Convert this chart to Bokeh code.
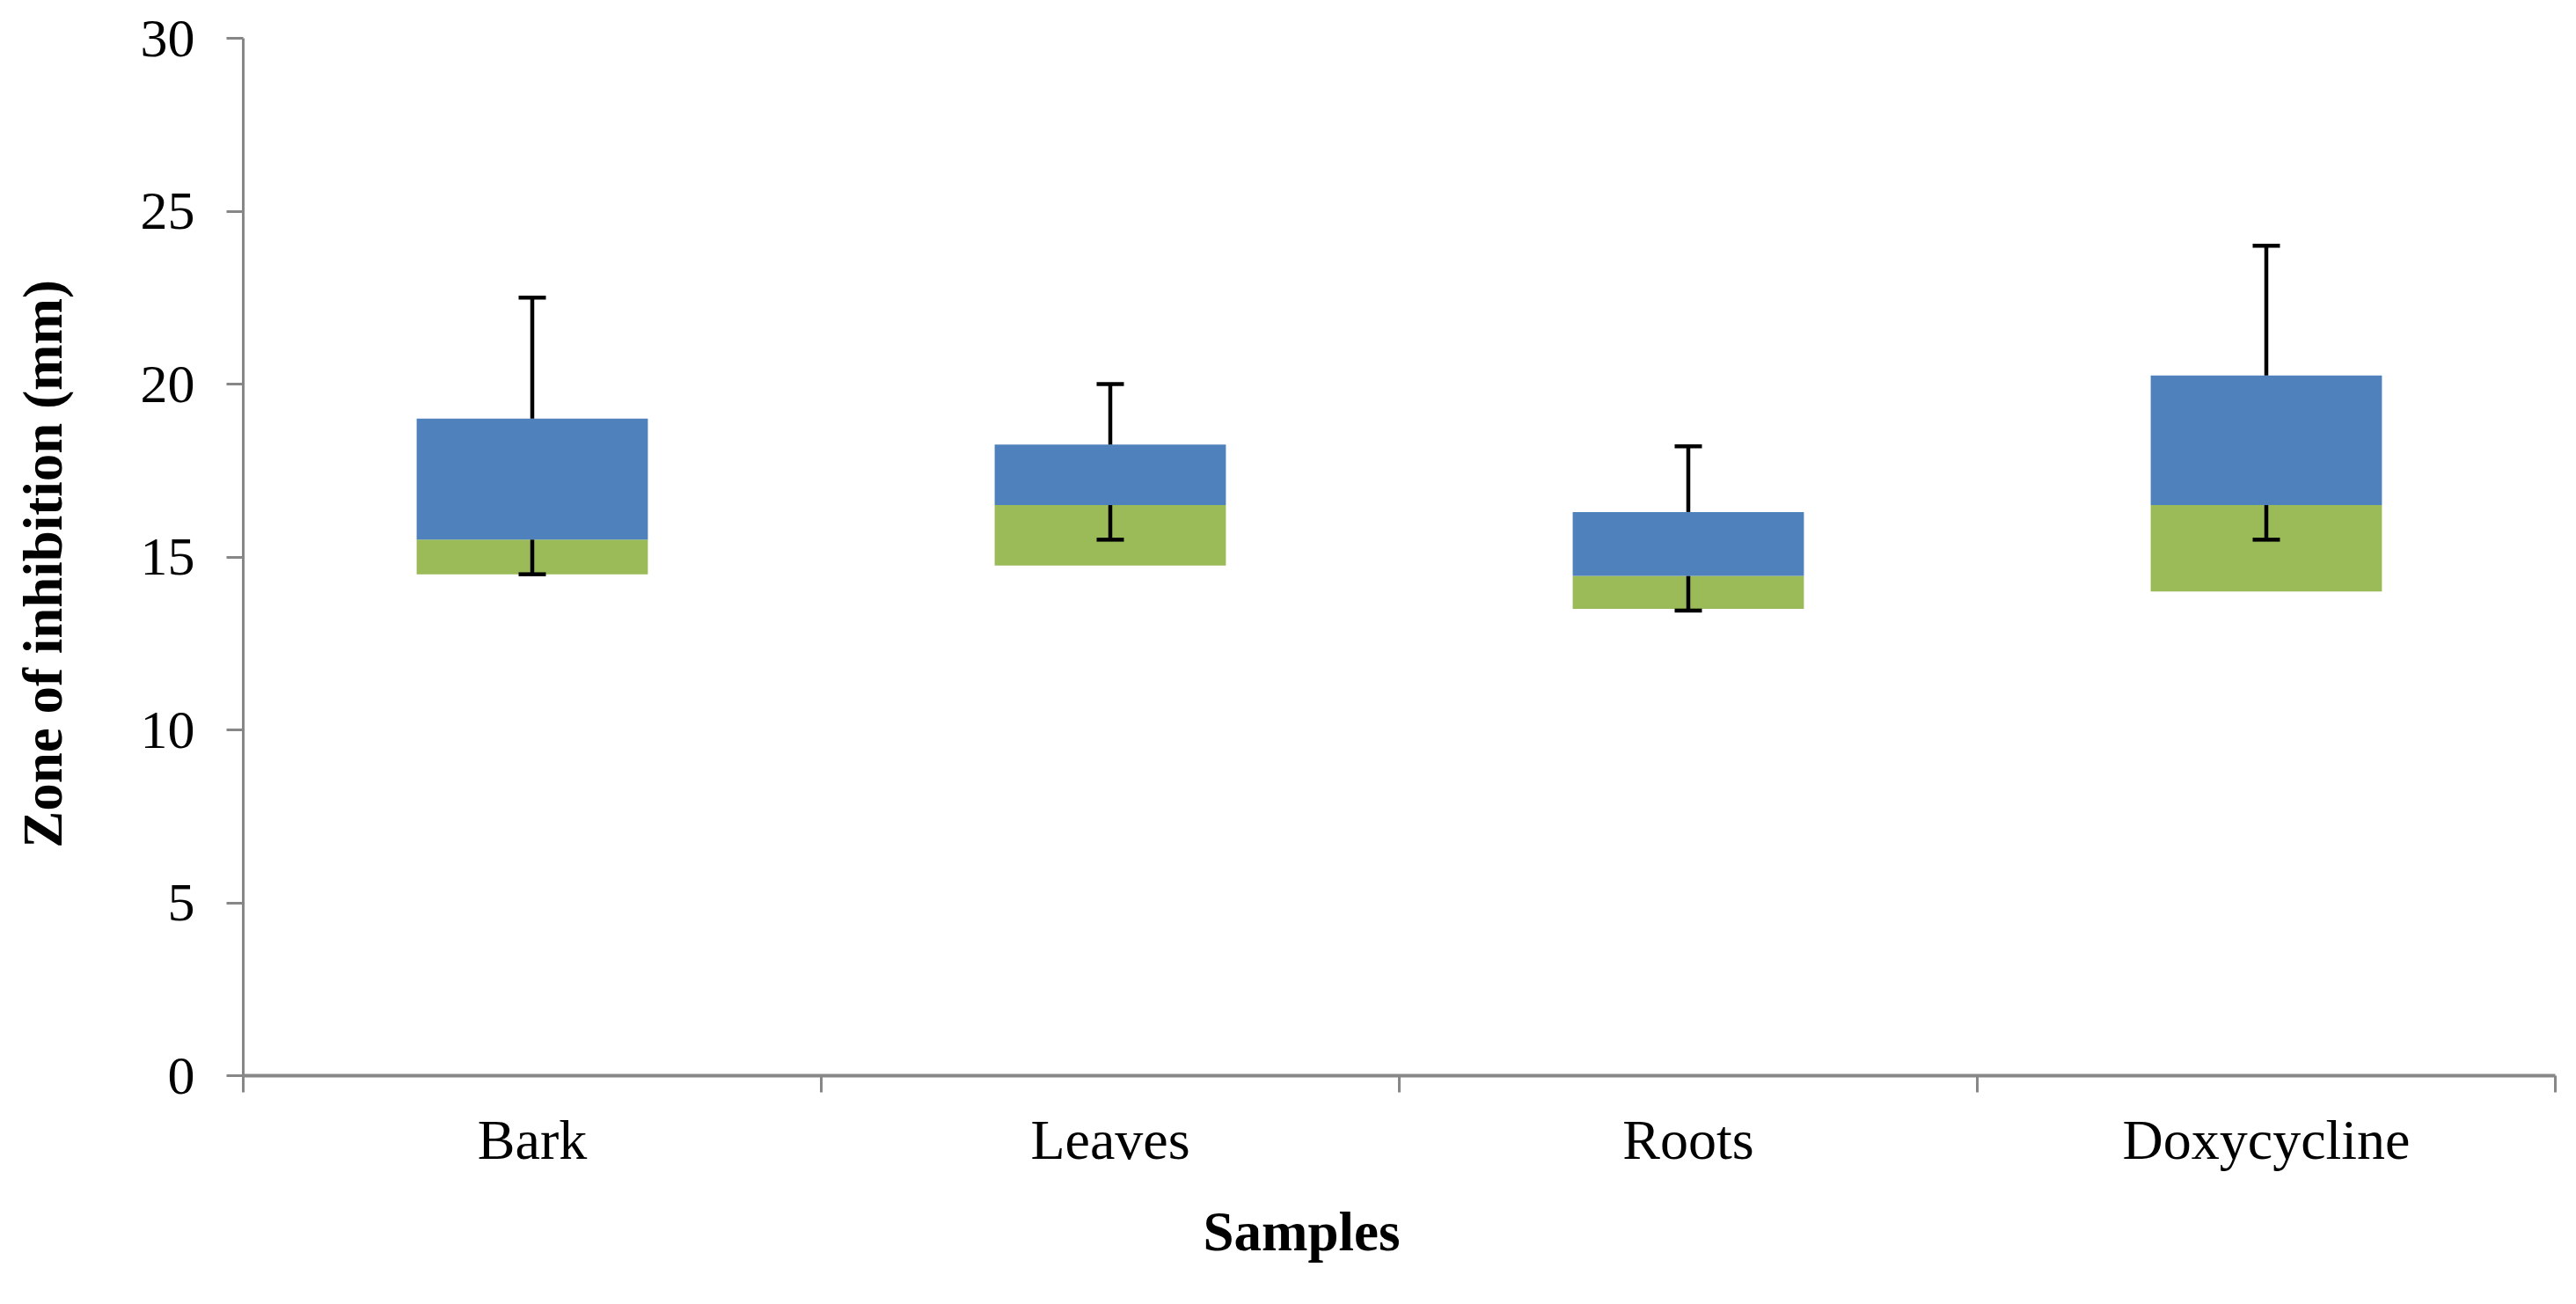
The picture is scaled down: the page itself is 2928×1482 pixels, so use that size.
from bokeh.plotting import figure
from bokeh.models import (ColumnDataSource, Range1d, FixedTicker, SingleIntervalTicker,
                          Whisker, TeeHead, Title)
from bokeh.embed import file_html
from bokeh.resources import INLINE

# ---- data ----
categories = ["Bark", "Leaves", "Roots", "Doxycycline"]
q1 = [14.5, 14.75, 13.5, 14.0]       # bottom of green box
median = [15.5, 16.5, 14.45, 16.5]   # green / blue boundary
q3 = [19.0, 18.25, 16.3, 20.25]      # top of blue box
minimum = [14.5, 15.5, 13.45, 15.5]  # lower whisker end
maximum = [22.5, 20.0, 18.2, 24.0]   # upper whisker end
y_ticks_step = 5
y_max = 30

GREEN = "#9BBB59"
BLUE = "#4F81BD"
AXIS_GRAY = "#878787"
SERIF = "Liberation Serif"

xs = [i + 0.5 for i in range(len(categories))]
src = ColumnDataSource(dict(x=xs, cat=categories, q1=q1, median=median, q3=q3,
                            minimum=minimum, maximum=maximum))

p = figure(width=2912, height=1466, output_backend="svg", toolbar_location=None,
           x_range=Range1d(0, len(categories)), y_range=Range1d(0, y_max),
           min_border_left=276, min_border_right=8, min_border_top=43, min_border_bottom=244)
p.outline_line_color = None
p.xgrid.visible = False
p.ygrid.visible = False
p.background_fill_color = "white"
p.border_fill_color = "white"

# boxes
p.vbar(x="x", width=0.4, bottom="q1", top="median", source=src,
       fill_color=GREEN, line_color=None)
p.vbar(x="x", width=0.4, bottom="median", top="q3", source=src,
       fill_color=BLUE, line_color=None)

# whiskers (drawn above the boxes)
up = Whisker(base="x", lower="q3", upper="maximum", source=src, dimension="height",
             line_color="black", line_width=4.5, level="overlay",
             upper_head=TeeHead(size=31, line_width=4.5, line_color="black"), lower_head=None)
lo = Whisker(base="x", lower="minimum", upper="median", source=src, dimension="height",
             line_color="black", line_width=4.5, level="overlay",
             lower_head=TeeHead(size=31, line_width=4.5, line_color="black"), upper_head=None)
p.add_layout(up)
p.add_layout(lo)

# x axis: labels at category centres, ticks at boundaries
xa = p.xaxis[0]
xa.ticker = FixedTicker(ticks=xs, minor_ticks=list(range(len(categories) + 1)))
xa.major_label_overrides = {x: c for x, c in zip(xs, categories)}
xa.major_tick_out = 0
xa.major_tick_in = 0
xa.minor_tick_out = 19
xa.minor_tick_in = 0
xa.minor_tick_line_color = AXIS_GRAY
xa.minor_tick_line_width = 3
xa.axis_line_color = AXIS_GRAY
xa.axis_line_width = 4
xa.major_label_text_font = SERIF
xa.major_label_text_font_size = "64px"
xa.major_label_text_color = "black"
xa.major_label_standoff = 18

# y axis
ya = p.yaxis[0]
ya.ticker = SingleIntervalTicker(interval=y_ticks_step)
ya.minor_tick_line_color = None
ya.major_tick_out = 19
ya.major_tick_in = 0
ya.major_tick_line_color = AXIS_GRAY
ya.major_tick_line_width = 3
ya.axis_line_color = AXIS_GRAY
ya.axis_line_width = 3
ya.major_label_text_font = SERIF
ya.major_label_text_font_size = "62px"
ya.major_label_text_color = "black"
ya.major_label_standoff = 36
ya.axis_label = "Zone of inhibition  (mm)"
ya.axis_label_text_font = SERIF
ya.axis_label_text_font_style = "bold"
ya.axis_label_text_font_size = "63px"
ya.axis_label_text_color = "black"
ya.axis_label_standoff = 73

# x axis title (a below-panel title so it can sit left of the frame centre, as in the reference)
p.add_layout(Title(text="Samples", align="left", offset=1091, standoff=58,
                   vertical_align="bottom",
                   text_font=SERIF, text_font_style="bold", text_font_size="63px",
                   text_color="black"), "below")

open("out.html", "w").write(file_html(p, INLINE))
